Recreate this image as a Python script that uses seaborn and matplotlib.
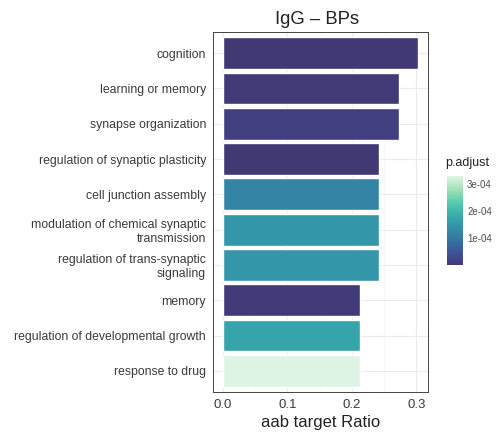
import numpy as np
import pandas as pd
import seaborn as sns
import matplotlib.pyplot as plt
from matplotlib.colors import LinearSegmentedColormap, Normalize
from matplotlib.cm import ScalarMappable

# data
terms = [
    "cognition",
    "learning or memory",
    "synapse organization",
    "regulation of synaptic plasticity",
    "cell junction assembly",
    "modulation of chemical synaptic\ntransmission",
    "regulation of trans-synaptic\nsignaling",
    "memory",
    "regulation of developmental growth",
    "response to drug",
]
counts = [10, 9, 9, 8, 8, 8, 8, 7, 7, 7]
total = 33
p_adjust = [2e-6, 5e-6, 1.5e-5, 4e-6, 1.2e-4, 1.5e-4, 1.5e-4, 6e-6, 1.7e-4, 3.3e-4]

df = pd.DataFrame({
    "term": terms,
    "ratio": np.array(counts) / total,
    "p.adjust": p_adjust,
})

# mako, dropping the very dark start
mako = sns.color_palette("mako", as_cmap=True)
cmap = LinearSegmentedColormap.from_list("mako_cut", mako(np.linspace(0.27, 1.0, 256)))
norm = Normalize(vmin=min(p_adjust), vmax=max(p_adjust))
bar_colors = [cmap(norm(v)) for v in p_adjust]

sns.set_style("white")
plt.rcParams["font.family"] = ["Liberation Sans", "DejaVu Sans"]

fig = plt.figure(figsize=(4.98, 4.34), dpi=100)
ax = fig.add_axes([0.4277, 0.0968, 0.4317, 0.8295])

sns.barplot(data=df, x="ratio", y="term", hue="term", palette=bar_colors,
            legend=False, width=0.9, ax=ax, saturation=1, zorder=3)

ax.set_xlim(-0.01515, 0.3182)
ax.set_ylim(9.6, -0.6)
ax.set_xticks([0.0, 0.1, 0.2, 0.3])
ax.set_xticklabels(["0.0", "0.1", "0.2", "0.3"])
ax.set_xticks([0.05, 0.15, 0.25], minor=True)

ax.grid(True, which="major", color="#EBEBEB", lw=0.8, zorder=0)
ax.grid(True, which="minor", axis="x", color="#F4F4F4", lw=0.5, zorder=0)
ax.set_axisbelow(True)

for s in ax.spines.values():
    s.set_color("#444444")
    s.set_linewidth(0.7)

ax.tick_params(axis="both", which="major", length=3, width=0.6, color="#444444",
               labelsize=8.8, labelcolor="#3A3A3A", pad=2)
ax.tick_params(axis="both", which="minor", length=0)
ax.tick_params(axis="x", labelsize=9.5)
for lab in ax.get_yticklabels():
    lab.set_multialignment("right")

ax.set_ylabel("")
ax.set_xlabel("aab target Ratio", fontsize=12, color="#222222", labelpad=3)
ax.set_title("IgG \u2013 BPs", fontsize=13.3, color="#222222", pad=6, x=0.485)

# colour bar for p.adjust
cax = fig.add_axes([0.8976, 0.3894, 0.0321, 0.205])
sm = ScalarMappable(norm=norm, cmap=cmap)
cb = fig.colorbar(sm, cax=cax, ticks=[1e-4, 2e-4, 3e-4])
cb.ax.set_yticklabels(["1e-04", "2e-04", "3e-04"])
cb.outline.set_visible(False)
cb.ax.tick_params(length=3, width=0.6, color="white", direction="in",
                  labelsize=7, labelcolor="#4D4D4D", pad=3)
fig.text(0.8936, 0.61, "p.adjust", fontsize=9, color="#222222", ha="left", va="bottom")

fig.savefig("out.png", dpi=100)
